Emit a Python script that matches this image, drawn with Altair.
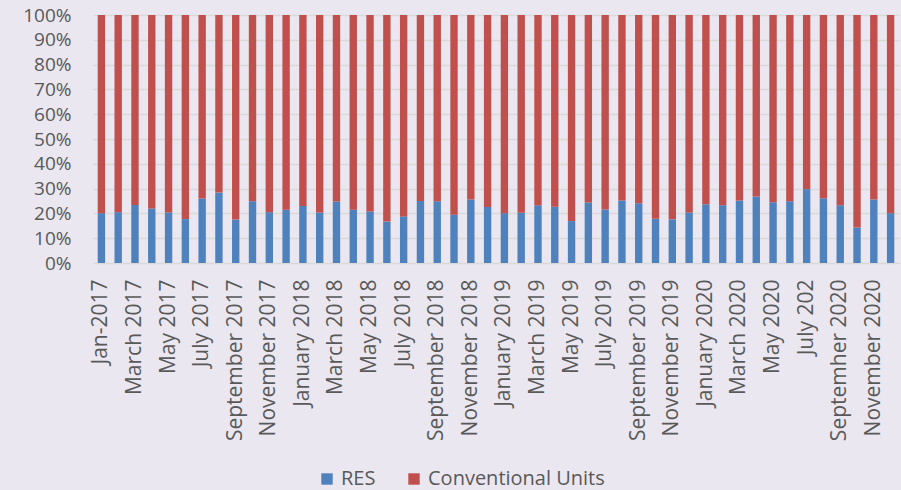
import altair as alt
import pandas as pd

months = [
    "Jan-2017", "February 2017", "March 2017", "April 2017", "May 2017", "June 2017",
    "July 2017", "August 2017", "September 2017", "October 2017", "November 2017", "December 2017",
    "January 2018", "February 2018", "March 2018", "April 2018", "May 2018", "June 2018",
    "July 2018", "August 2018", "September 2018", "October 2018", "November 2018", "December 2018",
    "January 2019", "February 2019", "March 2019", "April 2019", "May 2019", "June 2019",
    "July 2019", "August 2019", "September 2019", "October 2019", "November 2019", "December 2019",
    "January 2020", "February 2020", "March 2020", "April 2020", "May 2020", "June 2020",
    "July 202", "August 2020", "Septemher 2020", "October 2020", "November 2020", "December 2020",
]
shown_labels = months[::2]

res_share = [
    20.1, 20.5, 23.4, 22.0, 20.4, 17.7, 26.0, 28.4, 17.5, 24.9, 20.5, 21.5,
    23.0, 20.4, 24.8, 21.5, 20.8, 16.7, 18.8, 25.0, 24.9, 19.5, 25.6, 22.6,
    20.1, 20.3, 23.3, 22.7, 16.9, 24.4, 21.6, 25.2, 24.1, 17.8, 17.6, 20.4,
    23.7, 23.3, 25.2, 26.8, 24.5, 24.9, 29.8, 26.1, 23.3, 14.3, 25.6, 20.1,
]
conventional_share = [round(100 - v, 1) for v in res_share]

series_names = ["RES", "Conventional Units"]
series_colors = ["#4F81BD", "#C0504D"]

rows = []
for m, r, c in zip(months, res_share, conventional_share):
    rows.append({"month": m, "series": "RES", "value": r, "ord": 0})
    rows.append({"month": m, "series": "Conventional Units", "value": c, "ord": 1})
df = pd.DataFrame(rows)

font = "Open Sans"
gray = "#595959"

chart = alt.Chart(df).mark_bar().encode(
    x=alt.X("month:N", sort=months,
            scale=alt.Scale(paddingInner=0.56, paddingOuter=0.28),
            axis=alt.Axis(title=None, values=shown_labels, labelAngle=270,
                          labelFontSize=21, labelColor=gray, labelFont=font,
                          labelPadding=16, ticks=False, domainColor="#D9D9D9",
                          labelOverlap=False, labelBaseline="middle", labelAlign="right",
                          labelLimit=300)),
    y=alt.Y("value:Q", stack="normalize",
            scale=alt.Scale(domain=[0, 1]),
            axis=alt.Axis(title=None, format=".0%", values=[i / 10 for i in range(11)],
                          labelFontSize=19, labelColor=gray, labelFont=font,
                          labelPadding=22, ticks=False, domain=False,
                          gridColor="#D9D9D9", gridWidth=1.5)),
    color=alt.Color("series:N", scale=alt.Scale(domain=series_names, range=series_colors),
                    legend=alt.Legend(title=None, orient="none", direction="horizontal",
                                      legendX=224, legendY=454, symbolType="square",
                                      symbolSize=130, symbolStrokeWidth=0,
                                      labelFontSize=20, labelColor=gray, labelFont=font,
                                      columnPadding=28, labelOffset=4, labelLimit=300)),
    order=alt.Order("ord:Q", sort="ascending"),
).properties(
    width=806,
    height=248,
    background="#EAE7F0",
    padding={"left": 93, "top": 15, "right": 2, "bottom": 227},
    autosize=alt.AutoSizeParams(type="none"),
).configure_view(stroke=None)

chart.save("out.html", embed_options={"renderer": "svg", "actions": False})
